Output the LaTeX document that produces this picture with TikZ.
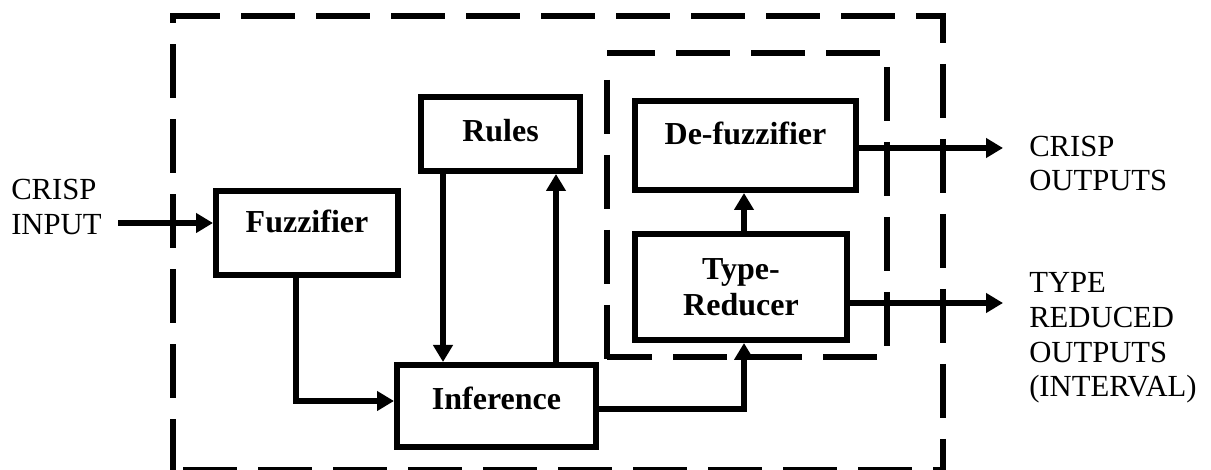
\documentclass[tikz,border=0pt]{standalone}
\usepackage{fontspec}
\setmainfont{Liberation Serif}
\usetikzlibrary{arrows.meta}
\begin{document}
\begin{tikzpicture}[x=0.75pt,y=-0.75pt,
  box/.style={draw,line width=4.5pt,inner sep=0pt,font=\bfseries\fontsize{24pt}{27pt}\selectfont},
  arr/.style={line width=4.5pt,-{Triangle[length=12.75pt,width=14.25pt]}},
  dsh/.style={line width=4.5pt,dash pattern=on 40.5pt off 15.75pt},
  lbl/.style={inner sep=0pt,anchor=base west,font=\fontsize{23pt}{26pt}\selectfont}]
\useasboundingbox (0,0) rectangle (1211,470);

% outer dashed frame
\draw[dsh,dash phase=2.25pt] (173,470) -- (173,16) -- (943,16) -- (943,470);
\draw[dsh,dash phase=46.5pt] (170,470) -- (946,470);
% inner dashed frame
\draw[dsh,dash phase=4.5pt] (607,53) -- (887,53) -- (887,357) -- (607,357);
\draw[dsh] (607,80) -- (607,360);

% boxes
\node[box,anchor=base,minimum width=136.5pt,text height=31.5pt,text depth=31.5pt] (fuzz) at (307,233) {Fuzzifier};
\node[box,anchor=base,minimum width=119.25pt,text height=33.75pt,text depth=21.75pt] (rules) at (500.5,142) {Rules};
\node[box,anchor=base,minimum width=149.25pt,text height=33.75pt,text depth=27.75pt] (inf) at (496.5,410) {Inference};
\node[box,anchor=base,minimum width=165.75pt,text height=33pt,text depth=33.75pt] (df) at (745.5,145) {De-fuzzifier};
\node[box,align=center,minimum width=159pt,minimum height=79.5pt] (tr) at (741,287) {Type-\\Reducer};

% labels
\node[lbl] (lin) at (11,200) {\begin{tabular}[t]{@{}l@{}}CRISP\\INPUT\end{tabular}};
\node[lbl,font=\fontsize{23pt}{25pt}\selectfont] (lout1) at (1029,157) {\begin{tabular}[t]{@{}l@{}}CRISP\\OUTPUTS\end{tabular}};
\node[lbl] (lout2) at (1029,293) {\begin{tabular}[t]{@{}l@{}}TYPE\\REDUCED\\OUTPUTS\\(INTERVAL)\end{tabular}};

% helper coordinates
\coordinate (i1) at (118,223);
\coordinate (c1) at (296,401);
\coordinate (c2) at (443,0);
\coordinate (c3) at (556,0);
\coordinate (c4) at (744,409);
\coordinate (o1) at (1003,148);
\coordinate (o2) at (1003,303);

% connectors
\draw[arr] (i1) -- (fuzz.west |- i1);
\draw[arr] (fuzz.south -| c1) |- (inf.west |- c1);
\draw[arr] (rules.south -| c2) -- (inf.north -| c2);
\draw[arr] (inf.north -| c3) -- (rules.south -| c3);
\draw[arr] (inf.east |- c4) -| (tr.south -| c4);
\draw[arr] (tr.north -| c4) -- (df.south -| c4);
\draw[arr] (df.east |- o1) -- (o1);
\draw[arr] (tr.east |- o2) -- (o2);
\end{tikzpicture}
\end{document}
